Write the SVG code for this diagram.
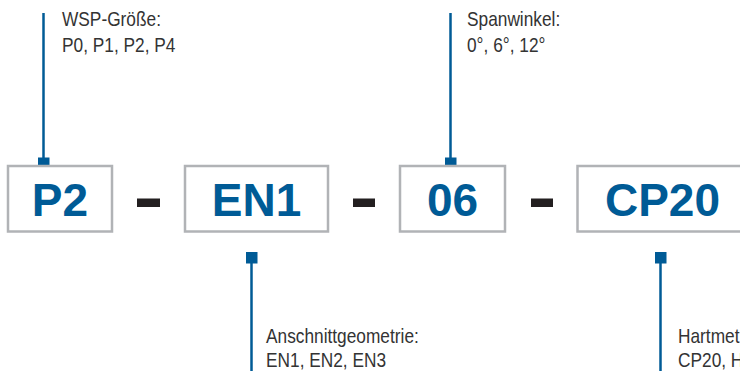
<svg xmlns="http://www.w3.org/2000/svg" width="740" height="371" viewBox="0 0 740 371">
<style>
.box{fill:#fff;stroke:#b1b3b6;stroke-width:2.5}
.code{font-family:"Liberation Sans",Arial,sans-serif;font-weight:bold;font-size:46px;fill:#005b96;text-anchor:middle}
.lbl{font-family:"Liberation Sans",Arial,sans-serif;font-size:20px;fill:#333}
.lead{stroke:#005b96;stroke-width:2.5;fill:none}
.sq{fill:#005b96}
.dash{fill:#231f20}
</style>
<rect width="740" height="371" fill="#fff"/>
<g id="connectors">
<line class="lead" x1="43.5" y1="13" x2="43.5" y2="158"/>
<rect class="sq" x="38" y="157.5" width="11.5" height="11.5"/>
<line class="lead" x1="450.5" y1="13" x2="450.5" y2="158"/>
<rect class="sq" x="445" y="157.5" width="11.5" height="11.5"/>
<line class="lead" x1="251.5" y1="262" x2="251.5" y2="371"/>
<rect class="sq" x="246" y="252" width="11.5" height="11.5"/>
<line class="lead" x1="660.5" y1="262" x2="660.5" y2="371"/>
<rect class="sq" x="655" y="252" width="11.5" height="11.5"/>
</g>
<g id="node-p2">
<rect class="box" x="8" y="166" width="104" height="65.5"/>
<text class="code" x="60" y="216">P2</text>
</g>
<g id="dash1"><rect class="dash" x="137" y="198.5" width="23" height="8.5"/></g>
<g id="node-en1">
<rect class="box" x="185" y="166" width="143" height="65.5"/>
<text class="code" x="256.5" y="216">EN1</text>
</g>
<g id="dash2"><rect class="dash" x="353" y="198.5" width="22" height="8.5"/></g>
<g id="node-06">
<rect class="box" x="400" y="166" width="105" height="65.5"/>
<text class="code" x="452.5" y="216">06</text>
</g>
<g id="dash3"><rect class="dash" x="531" y="198.5" width="22" height="8.5"/></g>
<g id="node-cp20">
<rect class="box" x="577.5" y="166" width="170" height="65.5"/>
<text class="code" x="662.5" y="216">CP20</text>
</g>
<g id="label-wsp" transform="translate(62,0) scale(0.865,1)">
<text class="lbl" x="0" y="26">WSP-Größe:</text>
<text class="lbl" x="0" y="52">P0, P1, P2, P4</text>
</g>
<g id="label-span" transform="translate(467,0) scale(0.865,1)">
<text class="lbl" x="0" y="26">Spanwinkel:</text>
<text class="lbl" x="0" y="52">0°, 6°, 12°</text>
</g>
<g id="label-anschnitt" transform="translate(266,0) scale(0.865,1)">
<text class="lbl" x="0" y="343">Anschnittgeometrie:</text>
<text class="lbl" x="0" y="367">EN1, EN2, EN3</text>
</g>
<g id="label-hartmet" transform="translate(678,0) scale(0.865,1)">
<text class="lbl" x="0" y="343">Hartmet</text>
<text class="lbl" x="0" y="367">CP20, H</text>
</g>
</svg>
